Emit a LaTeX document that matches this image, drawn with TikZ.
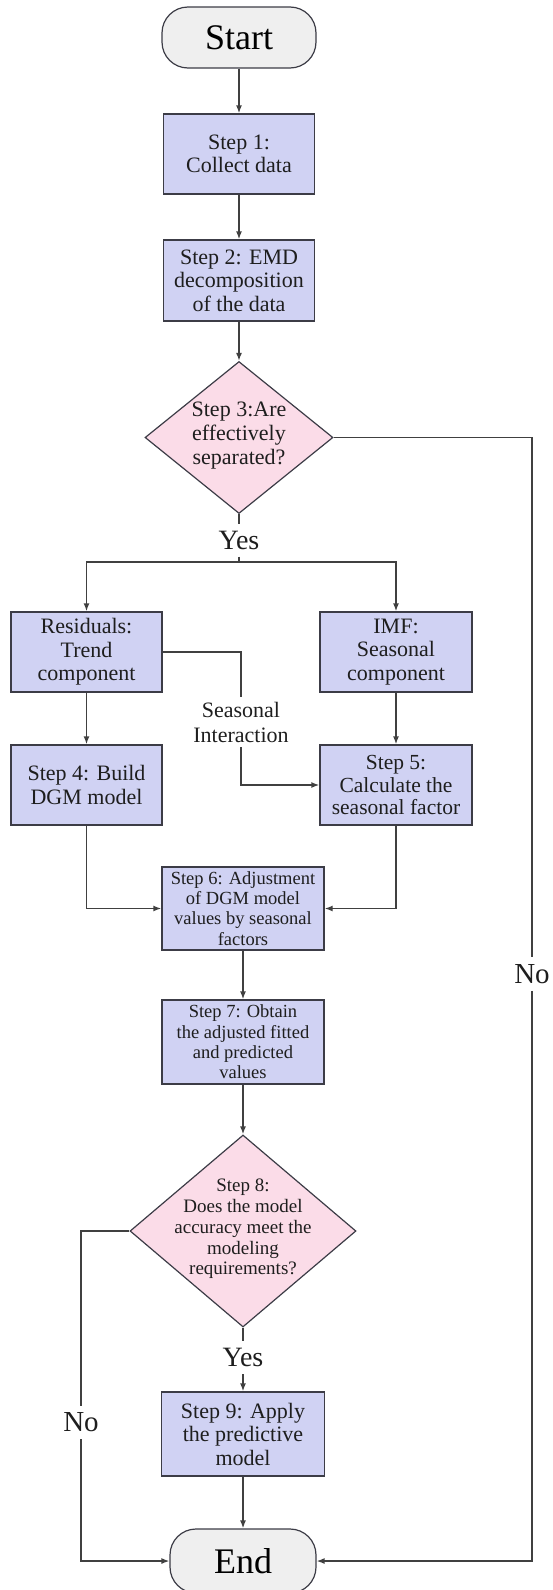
\documentclass[tikz,border=0pt]{standalone}
\usepackage{fontspec}
\setmainfont{Liberation Serif}
\usetikzlibrary{shapes.geometric,arrows.meta}
\definecolor{boxfill}{RGB}{208,210,243}
\definecolor{decfill}{RGB}{251,220,232}
\definecolor{termfill}{RGB}{239,239,239}
\definecolor{bordercol}{RGB}{60,60,70}
\definecolor{linecol}{RGB}{64,64,64}
\definecolor{txt}{RGB}{30,30,30}
\tikzset{
  proc/.style={draw=bordercol, line width=1.4pt, fill=boxfill, minimum width=151pt, minimum height=80pt, inner sep=0pt, align=center, text=txt, font=\fontsize{22}{23.5}\selectfont},
  small/.style={font=\fontsize{18.5}{20.3}\selectfont},
  term/.style={draw=bordercol, line width=1.2pt, fill=termfill, rounded corners=26pt, minimum width=154pt, minimum height=61pt, inner sep=0pt, text=black, font=\fontsize{36}{40}\selectfont},
  dec/.style={diamond, draw=bordercol, line width=1.2pt, fill=decfill, inner sep=0pt},
  dectext/.style={align=center, text=txt, inner sep=0pt},
  lbl/.style={text=txt, inner sep=7pt, font=\fontsize{28}{30}\selectfont},
  conn/.style={draw=linecol, line width=1.4pt},
  arr/.style={conn, -{Latex[length=8pt,width=6pt]}},
}
\begin{document}
\begin{tikzpicture}[x=1pt,y=-1pt]
\useasboundingbox (0,0) rectangle (553,1590);
% nodes
\node[term] (start) at (239,37.5) {Start};
\node[proc] (s1) at (239,154) {Step 1:\\Collect data};
\node[proc, minimum height=81pt] (s2) at (239,280.5) {Step 2: EMD\\decomposition\\of the data};
\node[dec, minimum width=188pt, minimum height=152pt] (d3) at (239,437.5) {};
\node[dectext, font=\fontsize{22}{24}\selectfont] (d3t) at (239,436) {Step 3:Are\\effectively\\separated?};
\node[lbl] (yes1) at (239,540) {Yes};
\coordinate (split) at (239,562);
\node[proc] (res) at (86.5,652) {Residuals:\\Trend\\component};
\node[proc, minimum width=152pt] (imf) at (396,652) {IMF:\\Seasonal\\component};
\node[proc] (s4) at (86.5,785) {Step 4: Build\\DGM model};
\node[proc, minimum width=152pt, font=\fontsize{21.5}{22.7}\selectfont] (s5) at (396,785) {Step 5:\\Calculate the\\seasonal factor};
\node[align=center, text=txt, inner sep=5pt, font=\fontsize{22}{25}\selectfont] (si) at (241,722) {Seasonal\\Interaction};
\node[proc, small, minimum width=162pt, minimum height=83pt] (s6) at (243,908.5) {Step 6: Adjustment\\of DGM model\\values by seasonal\\factors};
\node[proc, small, minimum width=162pt, minimum height=84pt] (s7) at (243,1042) {Step 7: Obtain\\the adjusted fitted\\and predicted\\values};
\node[dec, minimum width=226pt, minimum height=192pt] (d8) at (243,1231) {};
\node[dectext, font=\fontsize{19}{20.7}\selectfont] (d8t) at (243,1229) {Step 8:\\Does the model\\accuracy meet the\\modeling\\requirements?};
\node[lbl] (yes2) at (243,1357.5) {Yes};
\node[proc, minimum width=163pt, minimum height=84pt] (s9) at (243,1434) {Step 9: Apply\\the predictive\\model};
\node[term, minimum width=146pt, minimum height=64pt] (end) at (243,1561) {End};
\node[lbl, font=\fontsize{29}{30}\selectfont] (noR) at (532,974) {No};
\node[lbl, font=\fontsize{29}{30}\selectfont] (noL) at (81,1422.5) {No};
% connectors
\draw[arr] (start) -- (s1);
\draw[arr] (s1) -- (s2);
\draw[arr] (s2) -- (d3);
\draw[conn] (d3.south) -- (yes1.north);
\draw[conn] (yes1.south) -- (split);
\draw[arr] (split) -| (res.north);
\draw[arr] (split) -| (imf.north);
\draw[arr] (res) -- (s4);
\draw[arr] (imf) -- (s5);
\draw[conn] (res.east) -| (si.north);
\draw[arr] (si.south) |- (s5.west);
\draw[arr] (s4.south) |- (s6.west);
\draw[arr] (s5.south) |- (s6.east);
\draw[arr] (s6) -- (s7);
\draw[arr] (s7) -- (d8);
\draw[conn] (d8.south) -- (yes2.north);
\draw[arr] (yes2.south) -- (s9.north);
\draw[arr] (s9) -- (end);
\draw[conn] (d3.east) -| (noR.north);
\draw[arr] (noR.south) |- (end.east);
\draw[conn] (d8.west) -| (noL.north);
\draw[arr] (noL.south) |- (end.west);
\end{tikzpicture}
\end{document}
